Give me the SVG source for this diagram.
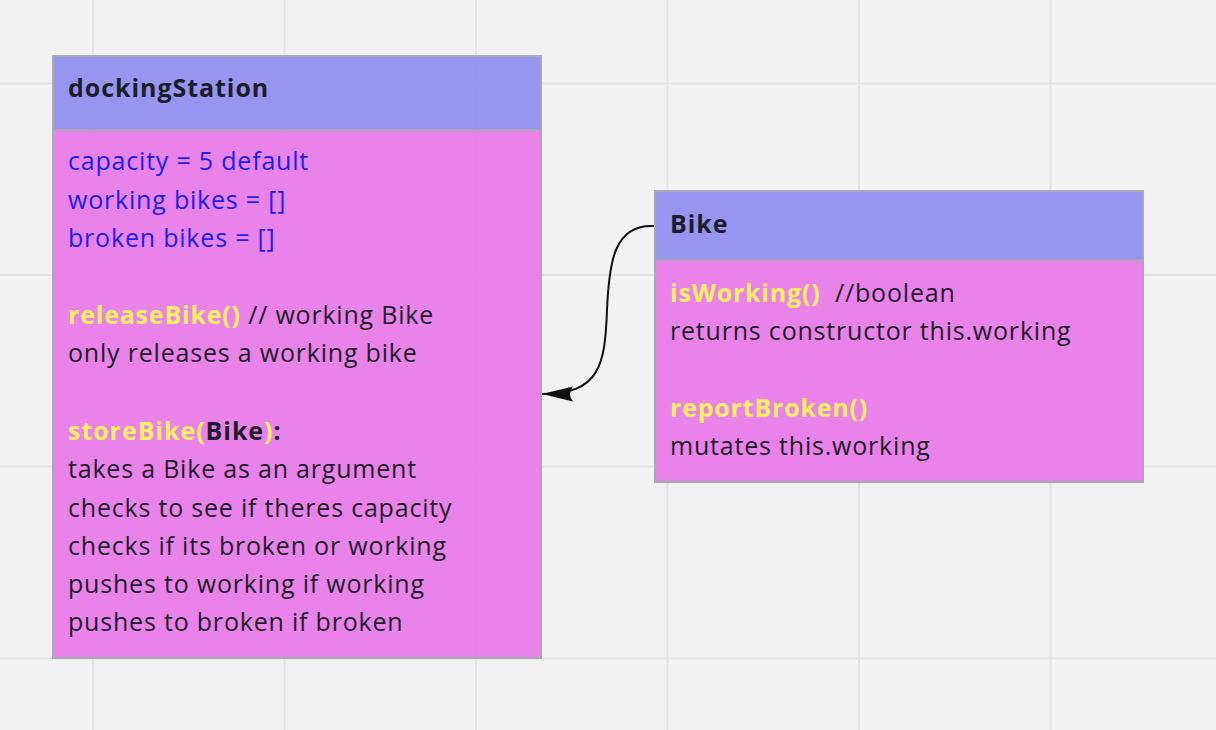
<svg xmlns="http://www.w3.org/2000/svg" width="1216" height="730" viewBox="0 0 1216 730">
<defs>
<style>
.grid{stroke:#e3e3e3;stroke-width:2}
.hdr{fill:#9392ef;stroke:#a9a9b5;stroke-width:2}
.bdy{fill:#e97fe8;stroke:#a9a9b5;stroke-width:2}
text{font-family:"Open Sans","Noto Sans","Liberation Sans",sans-serif;font-size:25px;letter-spacing:0.8px;fill:#1e1b2a;white-space:pre}
.b{font-weight:bold;letter-spacing:0.95px}
.blue{fill:#1d1df0}
.y{fill:#fbef62;font-weight:bold}
.conn{fill:none;stroke:#111;stroke-width:2}
</style>
<marker id="arr" viewBox="0 0 32 20" refX="31" refY="10" markerWidth="32" markerHeight="20" markerUnits="userSpaceOnUse" orient="auto">
<path d="M31,10 L0,2.5 Q6,10 0,17.5 Z" fill="#111"/>
</marker>
</defs>
<rect width="1216" height="730" fill="#f2f2f2"/>
<g id="grid">
<line class="grid" x1="93" y1="0" x2="93" y2="730"/>
<line class="grid" x1="284.5" y1="0" x2="284.5" y2="730"/>
<line class="grid" x1="476" y1="0" x2="476" y2="730"/>
<line class="grid" x1="667.5" y1="0" x2="667.5" y2="730"/>
<line class="grid" x1="859" y1="0" x2="859" y2="730"/>
<line class="grid" x1="1050.5" y1="0" x2="1050.5" y2="730"/>
<line class="grid" x1="0" y1="83.5" x2="1216" y2="83.5"/>
<line class="grid" x1="0" y1="275" x2="1216" y2="275"/>
<line class="grid" x1="0" y1="466.5" x2="1216" y2="466.5"/>
<line class="grid" x1="0" y1="658.5" x2="1216" y2="658.5"/>
</g>
<g id="dockingStation">
<rect class="hdr" x="53" y="56" width="488" height="74" fill-opacity="0.97"/>
<rect class="bdy" x="53" y="130" width="488" height="528" fill-opacity="0.97"/>
<text class="b" x="68" y="97">dockingStation</text>
<text class="blue" x="68" y="170">capacity = 5 default</text>
<text class="blue" x="68" y="208.5">working bikes = []</text>
<text class="blue" x="68" y="247">broken bikes = []</text>
<text x="68" y="324"><tspan class="y">releaseBike()</tspan> // working Bike</text>
<text x="68" y="362">only releases a working bike</text>
<text class="b" x="68" y="440"><tspan class="y">storeBike(</tspan>Bike<tspan class="y">)</tspan>:</text>
<text x="68" y="478">takes a Bike as an argument</text>
<text x="68" y="516.5">checks to see if theres capacity</text>
<text x="68" y="554.5">checks if its broken or working</text>
<text x="68" y="592.5">pushes to working if working</text>
<text x="68" y="630.5">pushes to broken if broken</text>
</g>
<g id="Bike">
<rect class="hdr" x="655" y="191" width="488" height="69" fill-opacity="0.97"/>
<rect class="bdy" x="655" y="260" width="488" height="222" fill-opacity="0.97"/>
<text class="b" x="670" y="233">Bike</text>
<text x="670" y="301.5"><tspan class="y">isWorking()</tspan>  //boolean</text>
<text x="670" y="339.5">returns constructor this.working</text>
<text class="y" x="670" y="416.5">reportBroken()</text>
<text x="670" y="454.5">mutates this.working</text>
</g>
<g id="connectors">
<path class="conn" d="M654,226 C614,224 609,262 607,310 C605,365 600,394 542,394" marker-end="url(#arr)"/>
</g>
</svg>
